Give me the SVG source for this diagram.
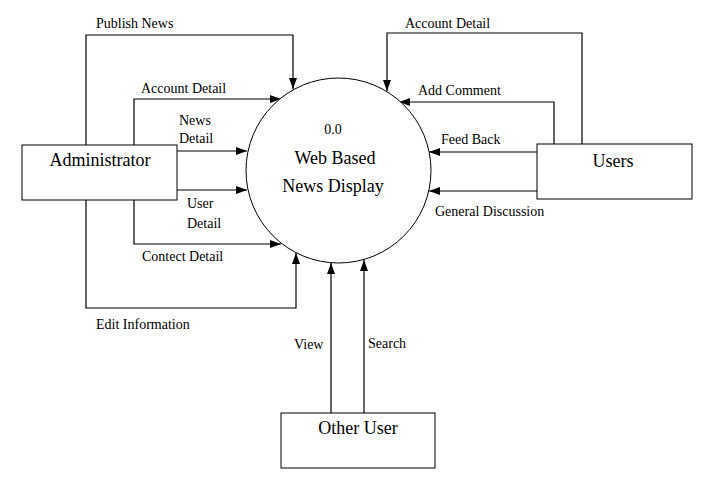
<svg xmlns="http://www.w3.org/2000/svg" width="706" height="489" viewBox="0 0 706 489">
<style>
text{font-family:"Times New Roman","Liberation Serif","DejaVu Serif",Times,serif}
.box{fill:#fff;stroke:#000;stroke-width:1}
.ln{fill:none;stroke:#000;stroke-width:1.2;marker-end:url(#ah)}
.lbl{font-size:14px;fill:#000}
.nt{font-size:18px;fill:#000;text-anchor:middle}
</style>
<defs>
<marker id="ah" markerWidth="11" markerHeight="8" refX="11" refY="4" orient="auto" markerUnits="userSpaceOnUse">
<path d="M0,0 L11,4 L0,8 z" fill="#000"/>
</marker>
</defs>
<rect width="706" height="489" fill="#fff"/>
<g id="connectors">
<path class="ln" d="M86,145 V35 H293 V89"/>
<path class="ln" d="M134,145 V99 H281"/>
<path class="ln" d="M177,151 H247"/>
<path class="ln" d="M177,190 H247"/>
<path class="ln" d="M134,200 V244 H281"/>
<path class="ln" d="M86,200 V308 H296 V253"/>
<path class="ln" d="M582,144 V33 H387 V91"/>
<path class="ln" d="M554,144 V102 H399"/>
<path class="ln" d="M537,152 H429"/>
<path class="ln" d="M537,191 H429"/>
<path class="ln" d="M331,413 V263"/>
<path class="ln" d="M364,413 V260"/>
<text class="lbl" x="96" y="28">Publish News</text>
<text class="lbl" x="141" y="93">Account Detail</text>
<text class="lbl" x="179" y="125">News</text>
<text class="lbl" x="179" y="143">Detail</text>
<text class="lbl" x="187" y="208">User</text>
<text class="lbl" x="187" y="228">Detail</text>
<text class="lbl" x="142" y="261">Contect Detail</text>
<text class="lbl" x="96" y="329">Edit Information</text>
<text class="lbl" x="405" y="28">Account Detail</text>
<text class="lbl" x="418" y="95">Add Comment</text>
<text class="lbl" x="441" y="144">Feed Back</text>
<text class="lbl" x="435" y="216">General Discussion</text>
<text class="lbl" x="294" y="349">View</text>
<text class="lbl" x="368" y="348">Search</text>
</g>
<g id="process">
<circle class="box" cx="338.5" cy="170.5" r="92.5"/>
<text class="nt" x="333" y="134" style="font-size:14px">0.0</text>
<text class="nt" x="335" y="164">Web Based</text>
<text class="nt" x="333" y="192">News Display</text>
</g>
<g id="administrator">
<rect class="box" x="22" y="145" width="155" height="55"/>
<text class="nt" x="100" y="166">Administrator</text>
</g>
<g id="users">
<rect class="box" x="537" y="144" width="155" height="55"/>
<text class="nt" x="613" y="167">Users</text>
</g>
<g id="other-user">
<rect class="box" x="281" y="413" width="154" height="55"/>
<text class="nt" x="358" y="434">Other User</text>
</g>
</svg>
